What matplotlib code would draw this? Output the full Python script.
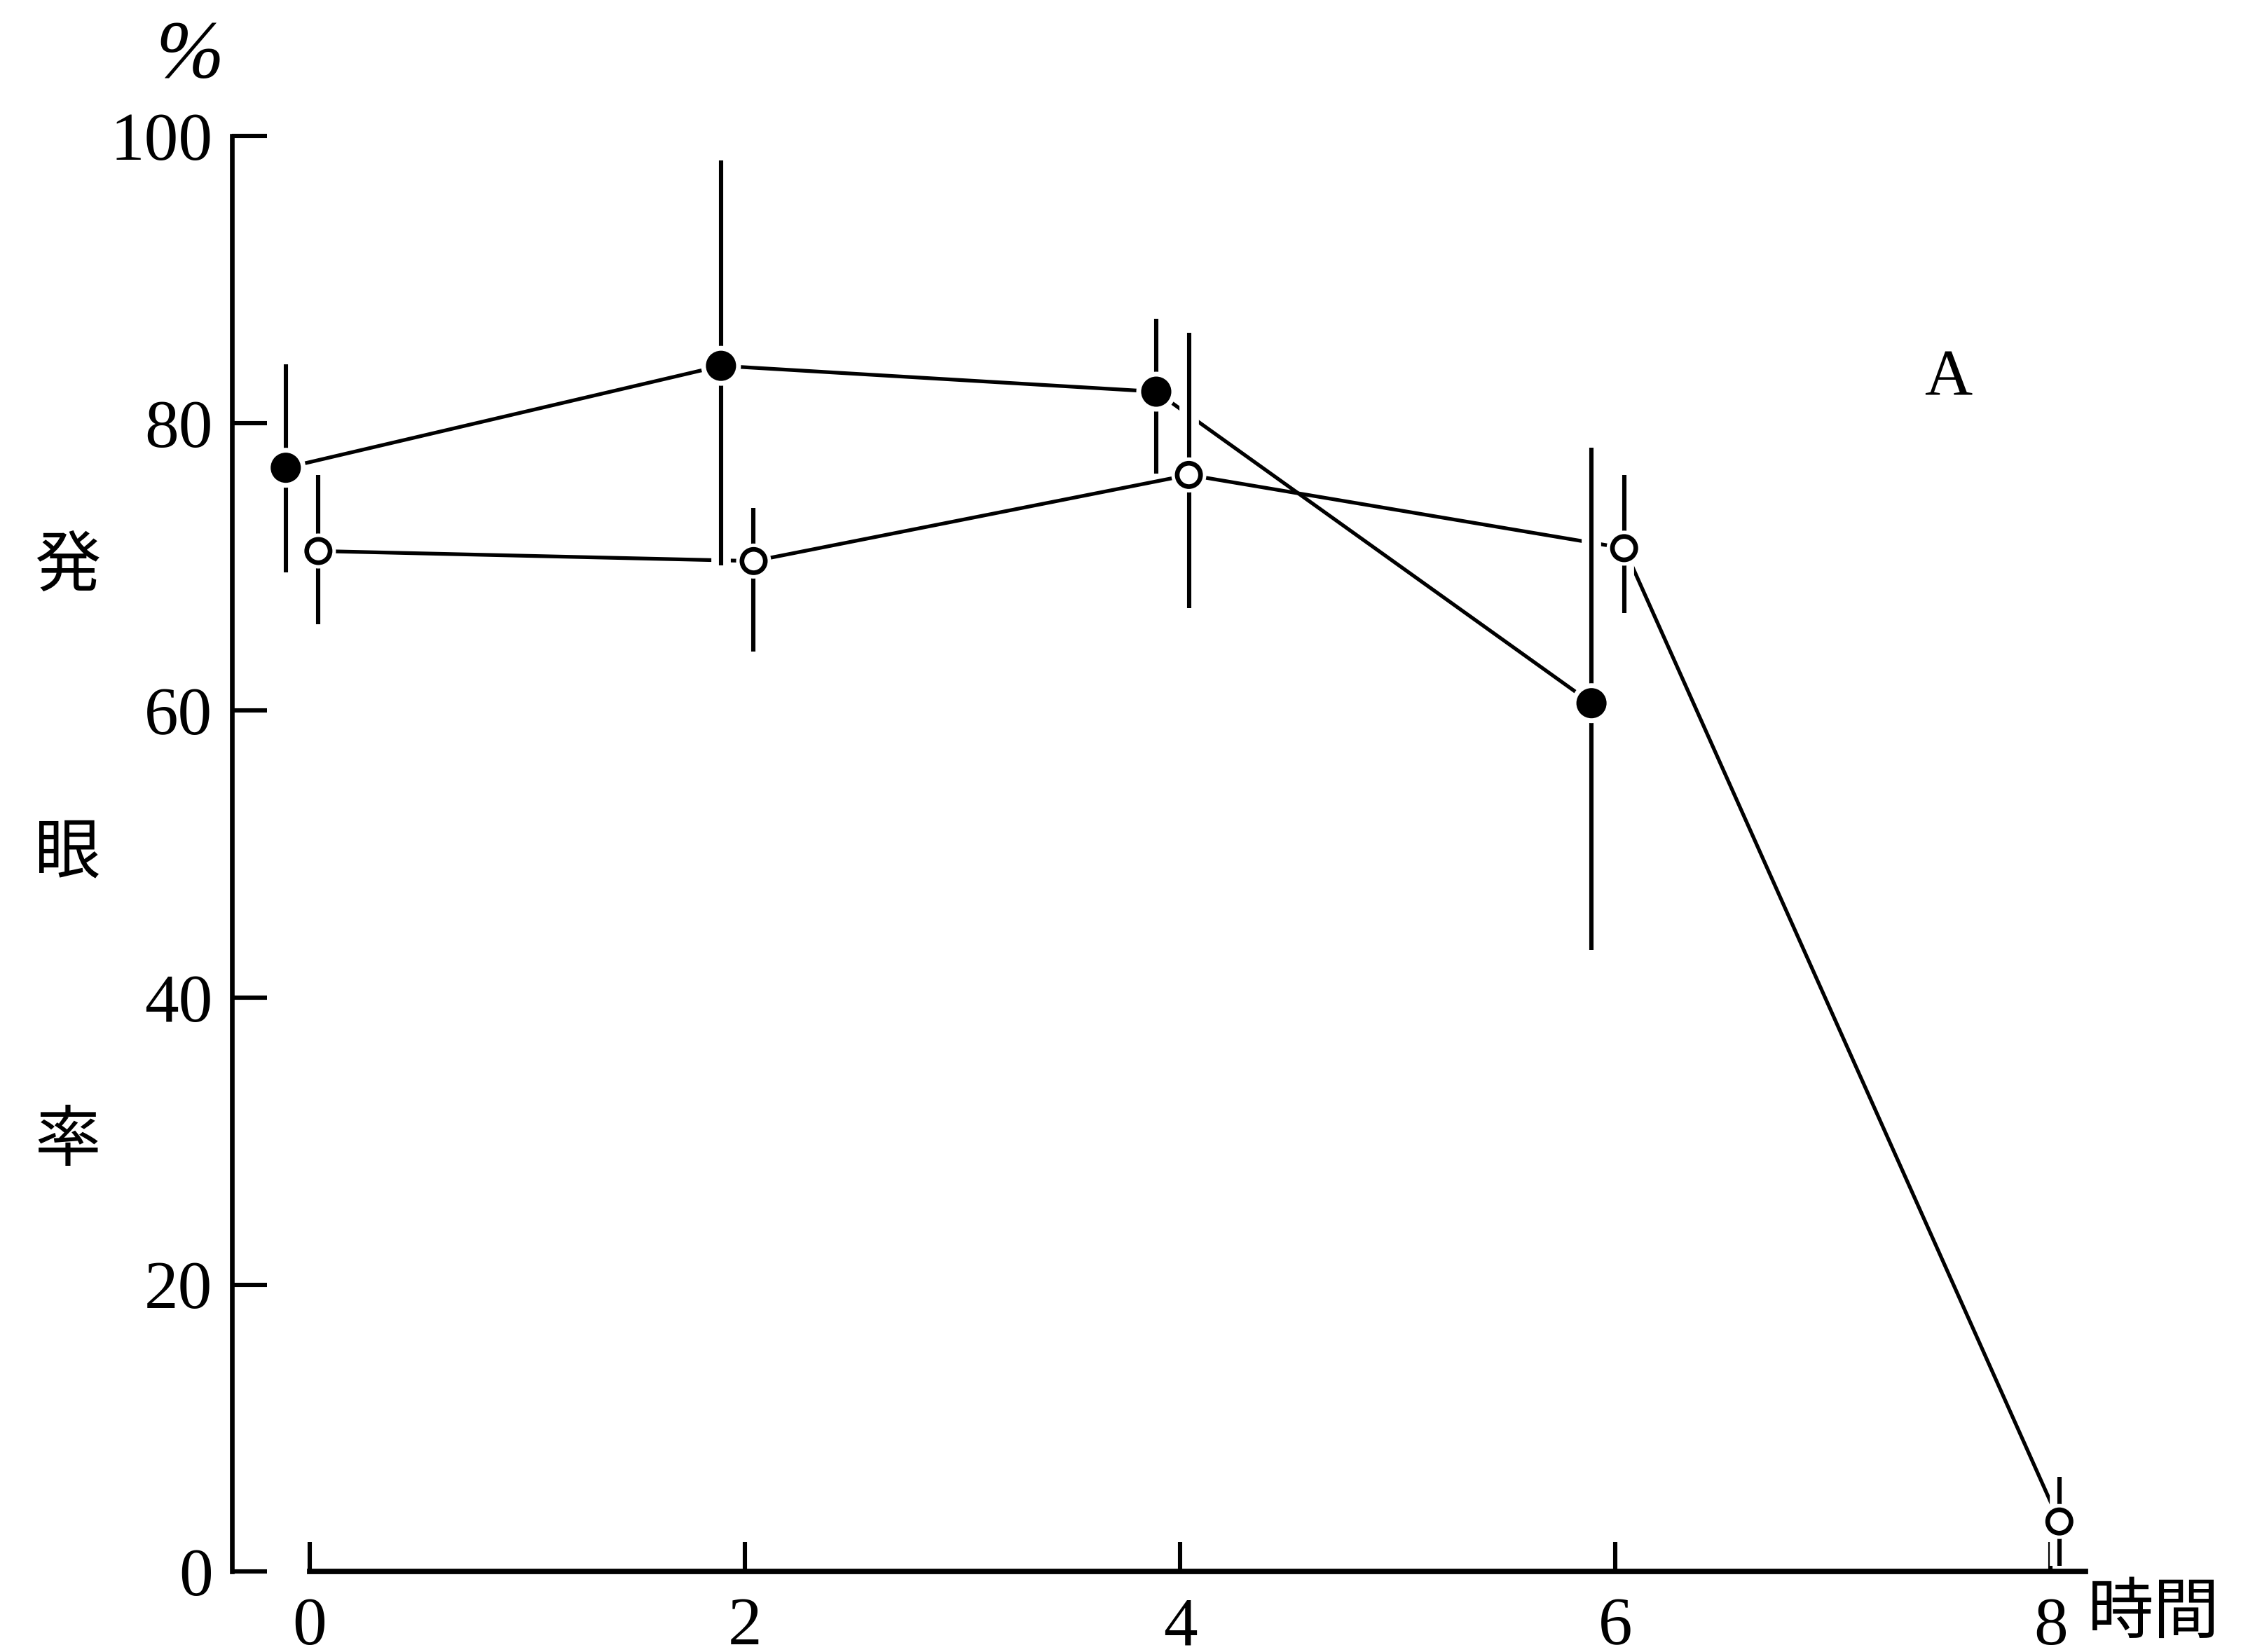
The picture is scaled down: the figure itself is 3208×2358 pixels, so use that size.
import matplotlib
matplotlib.use('Agg')
import matplotlib.pyplot as plt
import matplotlib.patheffects as pe

# 時間 (h)
hours_filled = [0, 2, 4, 6]
hours_open = [0, 2, 4, 6, 8]

# 発眼率 (%) : ● series
filled_rate = [76.9, 84.0, 82.2, 60.5]
filled_hi = [84.1, 98.3, 87.3, 78.3]
filled_lo = [69.6, 70.1, 76.5, 43.3]

# 発眼率 (%) : ○ series
open_rate = [71.1, 70.4, 76.4, 71.3, 3.5]
open_hi = [76.4, 74.1, 86.3, 76.4, 6.6]
open_lo = [66.0, 64.1, 67.1, 66.8, 0.4]

x_ticks = [0, 2, 4, 6, 8]
y_ticks = [0, 20, 40, 60, 80, 100]

serif = 'Liberation Serif'
jp = ['Noto Sans CJK JP', 'DejaVu Sans']

fig = plt.figure(figsize=(16.04, 11.79), dpi=200)
ax = fig.add_axes([0.1033, 0.0486, 0.8244, 0.869])
ax.set_xlim(-0.356, 8.16)
ax.set_ylim(0, 100)

# small horizontal shift so the two series do not overlap
xf = [h - 0.11 for h in hours_filled]
xo = [h + 0.04 for h in hours_open]

halo = [pe.Stroke(linewidth=10, foreground='white'), pe.Normal()]

ax.plot(xf, filled_rate, color='black', lw=1.9, zorder=2, clip_on=False)
ax.plot(xo, open_rate, color='black', lw=1.9, zorder=2, clip_on=False)

# error bars drawn with a white halo so lines break where they cross
ax.vlines(xf, filled_lo, filled_hi, color='black', lw=2.2, zorder=3,
          path_effects=halo, clip_on=False)
ax.vlines(xo, open_lo, open_hi, color='black', lw=2.2, zorder=3,
          path_effects=halo, clip_on=False)

ax.plot(xf, filled_rate, ls='none', marker='o', ms=14.5, mfc='black',
        mec='black', mew=1, zorder=4, clip_on=False,
        path_effects=[pe.Stroke(linewidth=6, foreground='white'), pe.Normal()])
ax.plot(xo, open_rate, ls='none', marker='o', ms=12, mfc='white',
        mec='black', mew=2.4, zorder=4, clip_on=False,
        path_effects=[pe.Stroke(linewidth=6, foreground='white'), pe.Normal()])

# axes styling
for s in ['top', 'right']:
    ax.spines[s].set_visible(False)
ax.spines['left'].set_linewidth(2.4)
ax.spines['bottom'].set_linewidth(2.8)
ax.spines['left'].set_bounds(0, 100)
ax.spines['bottom'].set_bounds(0, 8.16)

ax.set_xticks(x_ticks)
ax.set_yticks(y_ticks)
ax.tick_params(axis='y', direction='in', length=18, width=2.2, pad=10,
               labelsize=35)
ax.tick_params(axis='x', direction='in', length=15, width=2.2, pad=13,
               labelsize=35)
for lab in ax.get_xticklabels() + ax.get_yticklabels():
    lab.set_fontfamily(serif)

ax.text(-0.55, 105.5, '%', fontsize=42, fontstyle='italic', family=serif,
        ha='center', va='center', clip_on=False)
ax.text(7.53, 83.1, 'A', fontsize=34, family=serif, ha='center',
        va='center')
for ch, yv in zip(['発', '眼', '率'], [70, 50, 30]):
    ax.text(-1.113, yv, ch, fontsize=34, family=jp, ha='center',
            va='center', clip_on=False)
ax.text(8.17, -2.9, '時間', fontsize=34, family=jp, ha='left',
        va='center', clip_on=False)

fig.savefig('out.png', dpi=200, facecolor='white')
